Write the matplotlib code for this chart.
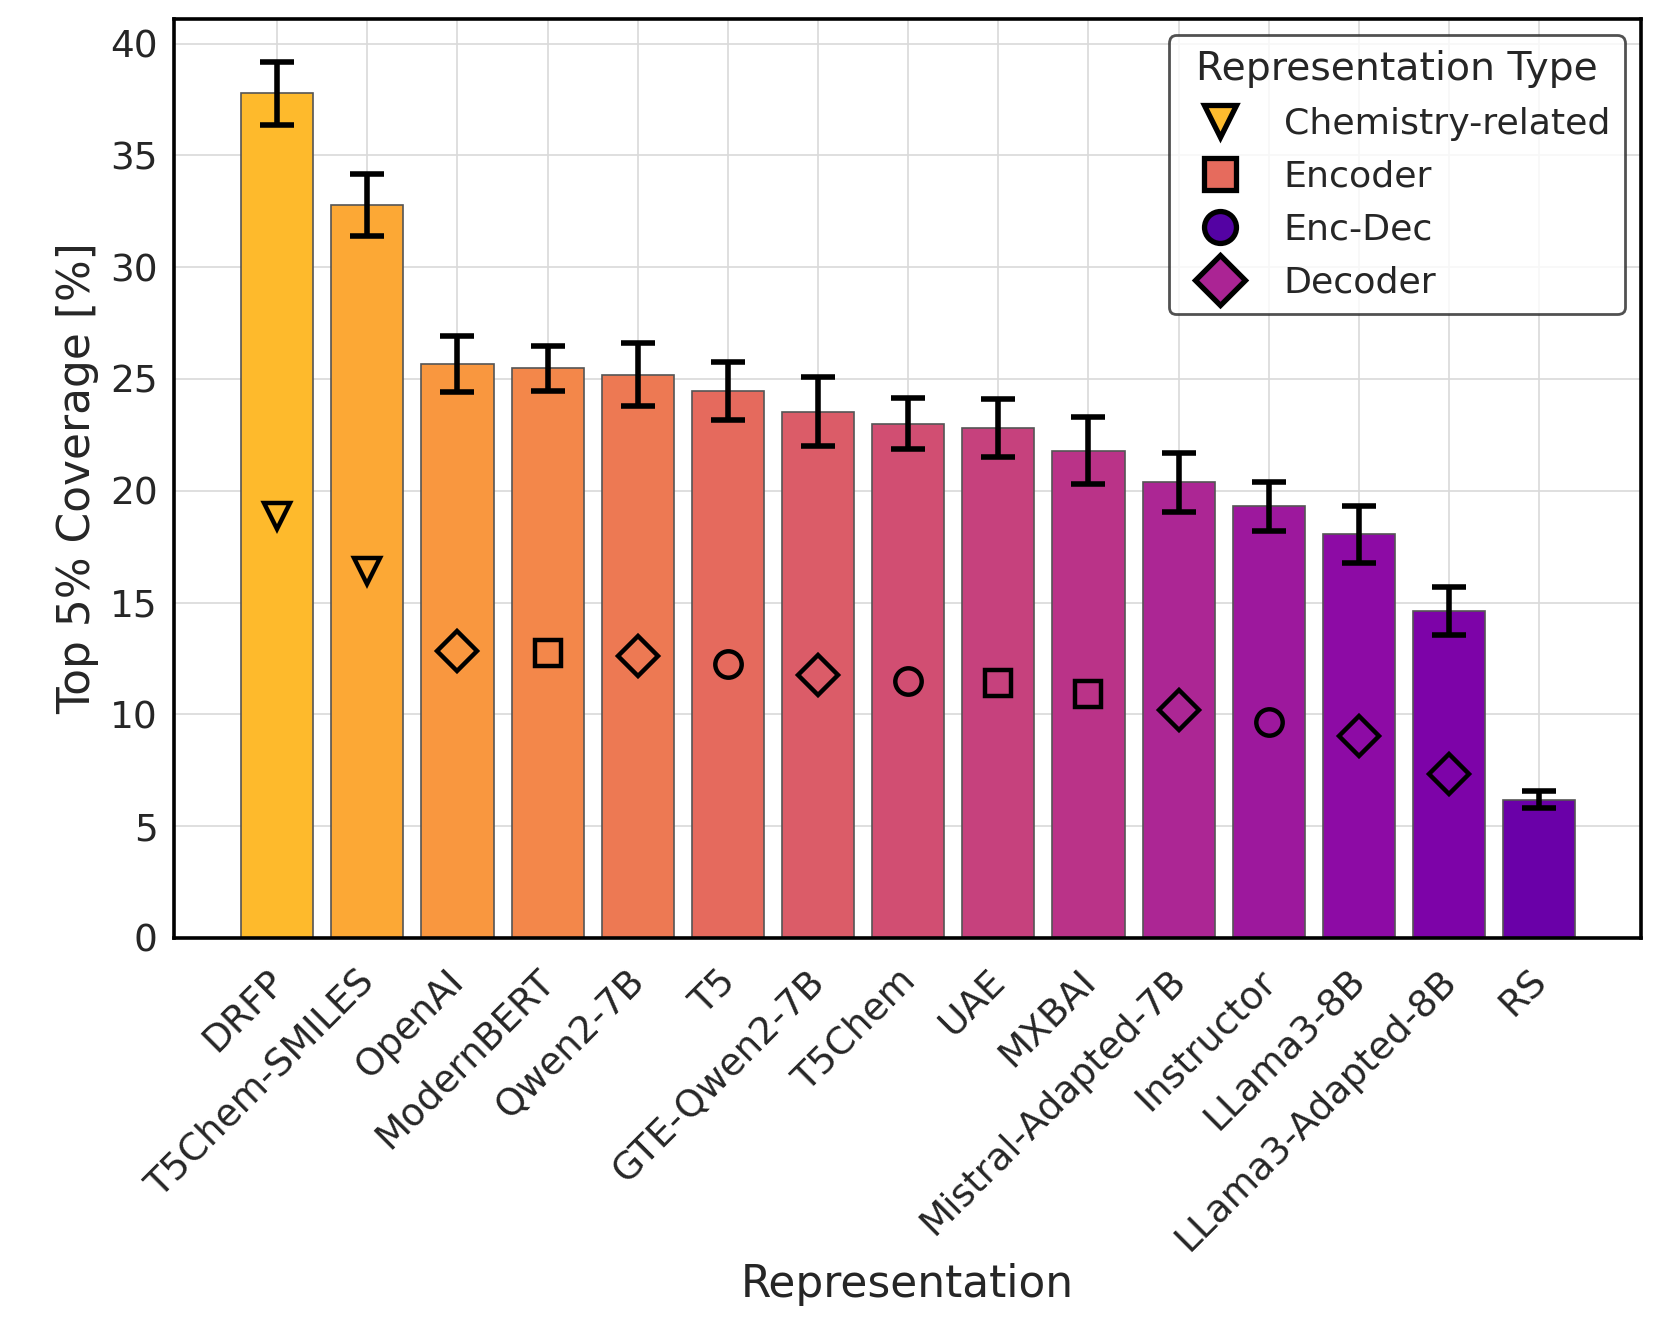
import numpy as np
import matplotlib
matplotlib.use("Agg")
import matplotlib.pyplot as plt
from matplotlib.lines import Line2D
from matplotlib.transforms import ScaledTranslation

categories = ["DRFP", "T5Chem-SMILES", "OpenAI", "ModernBERT", "Qwen2-7B", "T5",
              "GTE-Qwen2-7B", "T5Chem", "UAE", "MXBAI", "Mistral-Adapted-7B",
              "Instructor", "LLama3-8B", "LLama3-Adapted-8B", "RS"]
values = [37.77, 32.79, 25.67, 25.48, 25.2, 24.48, 23.53, 23.0, 22.82, 21.8,
          20.37, 19.3, 18.06, 14.63, 6.18]
errors = [1.4, 1.4, 1.25, 1.0, 1.4, 1.3, 1.55, 1.15, 1.3, 1.48, 1.3, 1.08, 1.28, 1.08, 0.37]
rep_types = ["Chemistry-related", "Chemistry-related", "Decoder", "Encoder", "Decoder",
             "Enc-Dec", "Decoder", "Enc-Dec", "Encoder", "Encoder", "Decoder",
             "Enc-Dec", "Decoder", "Decoder", None]
type_names = ["Chemistry-related", "Encoder", "Enc-Dec", "Decoder"]
type_markers = {"Chemistry-related": "v", "Encoder": "s", "Enc-Dec": "o", "Decoder": "D"}
type_colors = {"Chemistry-related": "#FDBB2E", "Encoder": "#E66B5D",
               "Enc-Dec": "#5402A3", "Decoder": "#AB2494"}

plt.rcParams['font.family'] = ['DejaVu Sans']
fig = plt.figure(figsize=(8.305, 6.605), dpi=200)
ax = fig.add_axes([0.105, 0.29, 0.883, 0.6956])

n = len(categories)
x = np.arange(n)
cmap = plt.get_cmap("plasma")
colors = [cmap(v) for v in np.linspace(0.85, 0.2, n)]

ax.set_axisbelow(True)
ax.grid(True, color="#d9d9d9", linewidth=0.6)
ax.bar(x, values, width=0.8, color=colors, edgecolor="#555555", linewidth=0.6, zorder=2)
ax.errorbar(x, values, yerr=errors, fmt="none", ecolor="black", elinewidth=2.0,
            capsize=6, capthick=2.0, zorder=3)

for xi, v, t in zip(x, values, rep_types):
    if t is None:
        continue
    ms = 10 if t == "Decoder" else 9.5
    ax.plot(xi, v / 2, marker=type_markers[t], markersize=ms, markerfacecolor="none",
            markeredgecolor="black", markeredgewidth=1.6, linestyle="none", zorder=4)

ax.set_xlim(-1.14, n - 1 + 1.13)
ax.set_ylim(0, 41.1)
ax.set_yticks(np.arange(0, 41, 5))
ax.set_xticks(x)
ax.set_xticklabels(categories, rotation=45, ha="right", rotation_mode="anchor")
ax.tick_params(axis="both", labelsize=13.5, length=0, pad=6, colors="#262626")
ax.tick_params(axis="x", pad=9)
offset = ScaledTranslation(-4 / 72, 0, fig.dpi_scale_trans)
for lbl in ax.get_xticklabels():
    lbl.set_transform(lbl.get_transform() + offset)

for s in ax.spines.values():
    s.set_color("black")
    s.set_linewidth(1.3)

ax.set_xlabel("Representation", fontsize=15.8, color="#262626", labelpad=2)
ax.set_ylabel("Top 5% Coverage [%]", fontsize=15.8, color="#262626")

handles = [Line2D([0], [0], marker=type_markers[t], linestyle="none",
                  markerfacecolor=type_colors[t], markeredgecolor="black",
                  markeredgewidth=1.9, markersize=12.5 if t == "Decoder" else 11.5)
           for t in type_names]
leg = ax.legend(handles, type_names, title="Representation Type", loc="upper right",
                fontsize=13.1, title_fontsize=14.2, frameon=True, fancybox=True,
                handletextpad=0.75, borderaxespad=0.45, labelspacing=0.52)
leg.get_frame().set_edgecolor("#262626")
leg.get_frame().set_linewidth(1.0)
for txt in leg.get_texts():
    txt.set_color("#262626")
leg.get_title().set_color("#262626")

fig.savefig("out.png", dpi=200)
